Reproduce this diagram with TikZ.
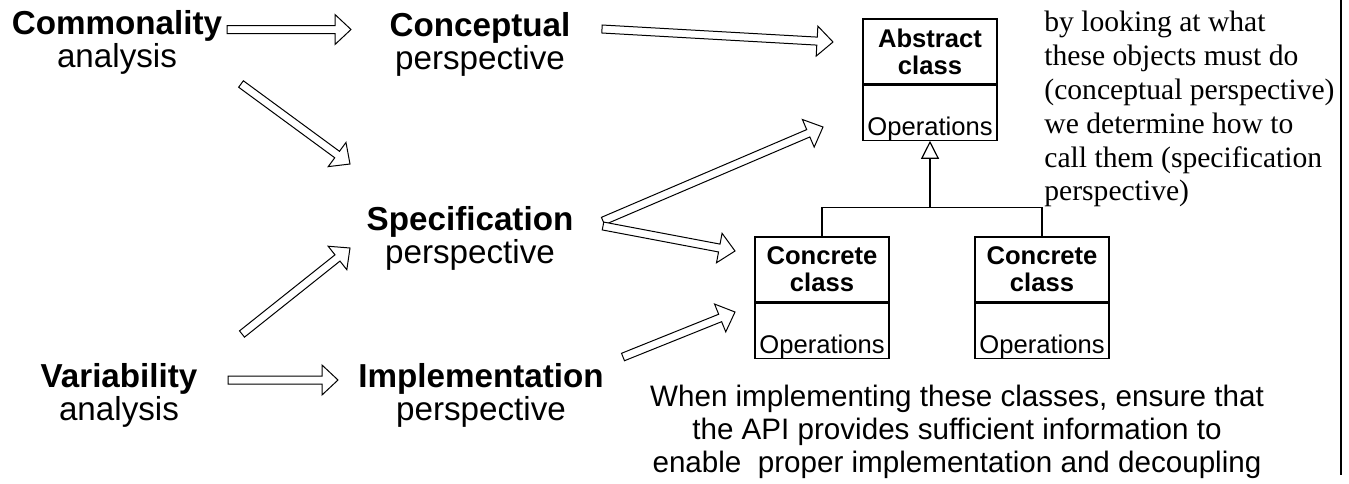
\documentclass[tikz,border=0pt]{standalone}
\usepackage{fontspec}
\setmainfont{Liberation Sans}
\newfontfamily\notefont{Liberation Serif}
\usetikzlibrary{calc}
\usetikzlibrary{arrows.meta}

% --- hollow block arrow from #1 to #2 -------------------------------
\newcommand{\blockarrow}[2]{%
  \coordinate (neck) at ($(#2)!\headLen!(#1)$);
  \draw[fatarrow]
    ($(#1)!\shaftHalf!90:(#2)$) -- ($(neck)!\shaftHalf!-90:(#1)$)
    -- ($(neck)!\headHalf!-90:(#1)$) -- (#2)
    -- ($(neck)!\headHalf!90:(#1)$) -- ($(neck)!\shaftHalf!90:(#1)$)
    -- ($(#1)!\shaftHalf!-90:(#2)$) -- cycle;
}

\begin{document}
\begin{tikzpicture}[x=0.5pt, y=-0.5pt,
  stage/.style={align=center, inner sep=0pt, font=\fontsize{16.6}{16.5}\selectfont},
  classtitle/.style={draw, line width=0.6pt, minimum width=67pt, minimum height=32.5pt,
    inner sep=0pt, align=center, font=\bfseries\fontsize{12.8}{13.5}\selectfont},
  classops/.style={draw, line width=0.6pt, minimum width=67pt, inner sep=0pt,
    text height=25pt, text depth=2.5pt, font=\fontsize{12.8}{13}\selectfont},
  fatarrow/.style={draw, line width=0.5pt, fill=white, line join=miter},
]

% ------------------------------------------------------------------
% === EDITABLE PARAMETERS ==========================================
\def\shaftHalf{2pt}   % half width of the arrow shaft
\def\headHalf{7.5pt}  % half width of the arrow head
\def\headLen{8pt}     % length of the arrow head
% ==================================================================

\useasboundingbox (0,0) rectangle (1349,483);

% --- analysis and perspectives -------------------------------------
\node[stage] (comm)    at (117,42.5)  {\textbf{Commonality}\\analysis};
\node[stage] (concept) at (480,44.5)  {\textbf{Conceptual}\\perspective};
\node[stage] (spec)    at (470,238.5) {\textbf{Specification}\\perspective};
\node[stage] (var)     at (119,395.5) {\textbf{Variability}\\analysis};
\node[stage] (impl)    at (481,395.5) {\textbf{Implementation}\\perspective};

% --- class boxes ---------------------------------------------------
\node[classtitle] (abst) at (930,51.5) {Abstract\\class};
\node[classops, anchor=north] (abstops) at (abst.south) {Operations};

\node[classtitle] (lconc) at (822,269.5) {Concrete\\class};
\node[classops, anchor=north] (lconcops) at (lconc.south) {Operations};

\node[classtitle] (rconc) at (1042,269.5) {Concrete\\class};
\node[classops, anchor=north] (rconcops) at (rconc.south) {Operations};

% --- inheritance ---------------------------------------------------
\coordinate (joint) at ($(abstops.south)+(0,67)$);
\draw[line width=0.6pt, -{Triangle[open, width=9pt, length=9pt]}] (joint) -- (abstops.south);
\draw[line width=0.6pt] (lconc.north) |- (joint) -| (rconc.north);

% --- arrow ends ----------------------------------------------------
\coordinate (commOut)    at (227,29.5);  \coordinate (conceptIn) at (351,29.5);
\coordinate (conceptOut) at (602,29);    \coordinate (abstIn)    at (833,42);
\coordinate (commDiag)   at (241,84);    \coordinate (specIn)    at (350,164);
\coordinate (specUp)     at (603,221);   \coordinate (abstLow)   at (823,127);
\coordinate (specDown)   at (603,226);   \coordinate (concIn)    at (735,251);
\coordinate (varDiag)    at (242,334);   \coordinate (specBelow) at (350,248);
\coordinate (varOut)     at (228,380);   \coordinate (implIn)    at (338,380);
\coordinate (implOut)    at (623,357);   \coordinate (concLow)   at (735,312);

\foreach \from/\to in {commOut/conceptIn, conceptOut/abstIn, commDiag/specIn,
    specUp/abstLow, specDown/concIn, varDiag/specBelow, varOut/implIn, implOut/concLow}
  \blockarrow{\from}{\to};

% --- notes ---------------------------------------------------------
\node[anchor=north west, align=left, inner sep=0pt, font=\notefont\fontsize{14.8}{16.9}\selectfont]
  (specnote) at (1044,11)
  {by looking at what\\these objects must do\\(conceptual perspective)\\
   we determine how to\\call them (specification\\perspective)};

\node[anchor=north, align=center, inner sep=0pt, font=\fontsize{14.8}{16.5}\selectfont]
  (implnote) at (957,385)
  {When implementing these classes, ensure that\\the API provides sufficient information to\\
   enable\ \ proper implementation and decoupling};

\draw[line width=1pt] (1341,0) -- (1341,475);

\end{tikzpicture}
\end{document}
